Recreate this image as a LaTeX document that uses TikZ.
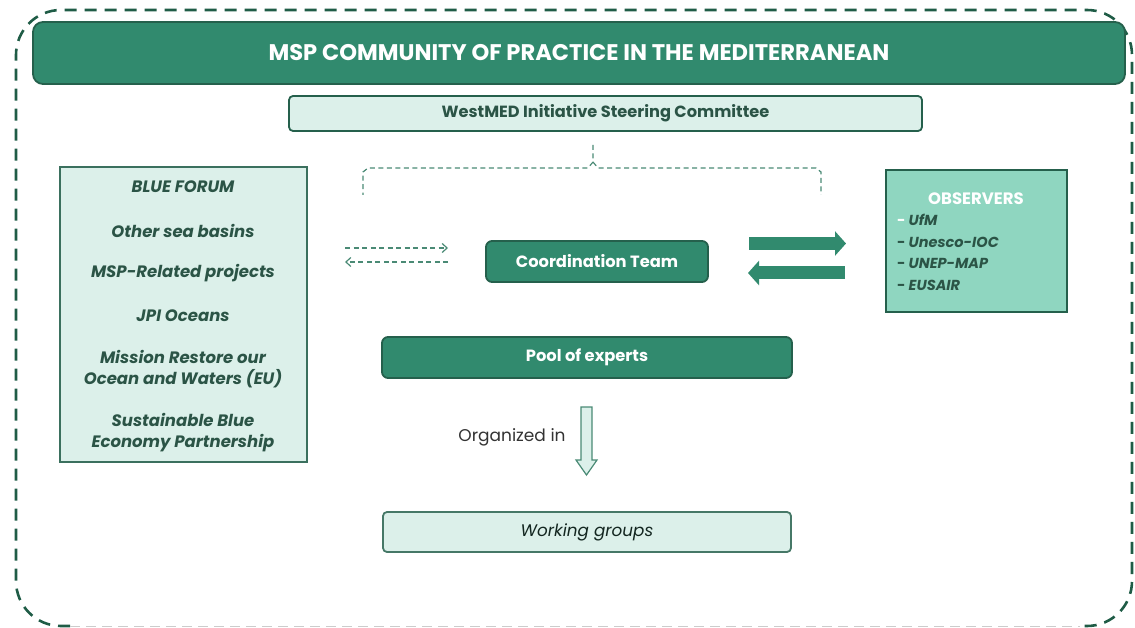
\documentclass[tikz,border=0pt]{standalone}
\usepackage{fontspec}
\setmainfont{Poppins}
\usetikzlibrary{arrows.meta}
\definecolor{dgreen}{HTML}{318A6E}
\definecolor{bordr}{HTML}{25604C}
\definecolor{lfill}{HTML}{DCF0EA}
\definecolor{ofill}{HTML}{8FD6C0}
\definecolor{tdark}{HTML}{2B5446}
\definecolor{dashc}{HTML}{4A8A75}
\definecolor{outerc}{HTML}{1F5C46}
\tikzset{
  darkbox/.style={draw=bordr, line width=1.8pt, fill=dgreen, rounded corners=6pt, text=white, font=\fontsize{16.3}{19}\selectfont\bfseries, inner sep=0pt},
  lightbox/.style={draw=bordr, line width=1.8pt, fill=lfill, rounded corners=4pt, text=tdark, inner sep=0pt},
  thindash/.style={draw=dashc, line width=1.2pt, dash pattern=on 5pt off 3.5pt},
  bigarrow/.style={draw=dgreen, line width=13pt, -{Triangle[length=11pt,width=24pt]}},
}
\begin{document}
\begin{tikzpicture}[x=1pt,y=-1pt]
\useasboundingbox (0,0) rectangle (1135,628);
% outer dashed frame
\draw[outerc, line width=2.6pt, dash pattern=on 12pt off 8pt, rounded corners=45pt]
  (70,626) -- (16,626) -- (16,10) -- (1132,10) -- (1132,626) -- (1080,626);
\draw[black!20, line width=1pt, dash pattern=on 10pt off 6pt] (70,626) -- (1080,626);
% title
\node[darkbox, rounded corners=10pt, minimum width=1092pt, minimum height=62pt, font=\fontsize{22.6}{26}\selectfont\bfseries] (title) at (579,53) {MSP COMMUNITY OF PRACTICE IN THE MEDITERRANEAN};
% WestMED
\node[lightbox, minimum width=633pt, minimum height=35pt, font=\fontsize{16.2}{19}\selectfont\bfseries] (west) at (605.5,113.5) {WestMED Initiative Steering Committee};
% bracket
\coordinate (bt) at (593,144);
\draw[thindash] (west.south -| bt) ++(0,13) -- (593,162) -- (588,168) -- (368,168) -- (363,172) -- (363,195);
\draw[thindash] (593,162) -- (598,168) -- (816,168) -- (821,172) -- (821,195);
% left box
\node[draw=bordr!90, line width=1.6pt, fill=lfill, minimum width=247pt, minimum height=295pt, inner sep=0pt] (left) at (183.5,314.5) {};
\begin{scope}[every node/.style={text=tdark, font=\fontsize{16.5}{21.5}\selectfont\bfseries\itshape, align=center}]
\node (l1) at (183,187) {BLUE FORUM};
\node (l2) at (183,231) {Other sea basins};
\node (l3) at (183,273) {MSP-Related projects};
\node (l4) at (183,316) {JPI Oceans};
\node (l5) at (183,369) {Mission Restore our\\Ocean and Waters (EU)};
\node (l6) at (183,432.5) {Sustainable Blue\\Economy Partnership};
\end{scope}
% coordination team
\node[darkbox, minimum width=222pt, minimum height=41pt] (coord) at (597,261.5) {Coordination Team};
% dashed arrows
\coordinate (da1) at (345,248);
\coordinate (da2) at (448,248);
\coordinate (da3) at (448,262);
\coordinate (da4) at (345,262);
\draw[thindash, -{Straight Barb[length=5pt,width=9pt]}] (da1) -- (da2);
\draw[thindash, -{Straight Barb[length=5pt,width=9pt]}] (da3) -- (da4);
% observers
\node[draw=bordr, line width=2.6pt, fill=ofill, minimum width=181pt, minimum height=142pt, inner sep=0pt] (obs) at (976.5,241) {};
\node[text=white, font=\fontsize{16.5}{19}\selectfont\bfseries] (obst) at (976,199) {OBSERVERS};
\begin{scope}[every node/.style={anchor=west, text=tdark, font=\fontsize{14.5}{18}\selectfont\bfseries, inner sep=0pt}]
\node (o1) at (897,220) {\textcolor{white}{-} \itshape UfM};
\node (o2) at (897,242) {- \itshape Unesco-IOC};
\node (o3) at (897,263.5) {- \itshape UNEP-MAP};
\node (o4) at (897,285) {- \itshape EUSAIR};
\end{scope}
% thick arrows
\coordinate (ta1) at (749,243.5);
\coordinate (ta2) at (846,243.5);
\coordinate (ta3) at (845,273);
\coordinate (ta4) at (748,273);
\draw[bigarrow] (ta1) -- (ta2);
\draw[bigarrow] (ta3) -- (ta4);
% pool of experts
\node[darkbox, minimum width=410pt, minimum height=41pt] (pool) at (587,357.5) {Pool of experts};
% hollow arrow
\draw[draw=dashc, line width=1.2pt, fill=lfill, line join=miter] (581,407) -- (592,407) -- (592,460) -- (597,460) -- (586.5,475) -- (576,460) -- (581,460) -- cycle;
\node[text=black!80, font=\fontsize{17}{20}\selectfont] (org) at (512,437) {Organized in};
% working groups
\node[lightbox, draw=bordr!85, minimum width=408pt, minimum height=40pt, text=black!55!tdark, font=\fontsize{16.8}{20}\selectfont\itshape] (wg) at (587,532) {Working groups};
\end{tikzpicture}
\end{document}
